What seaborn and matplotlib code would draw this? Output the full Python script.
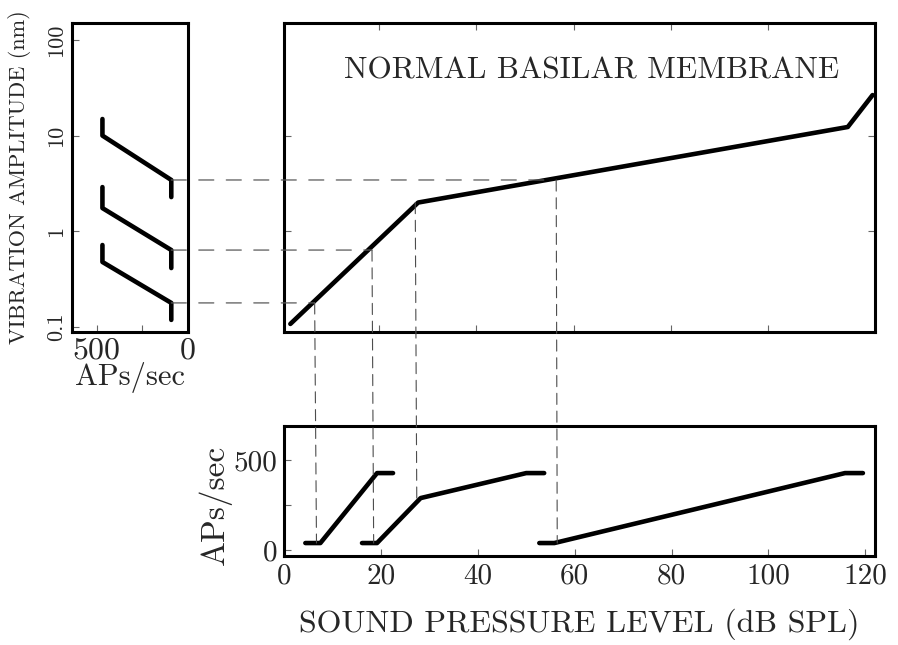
import matplotlib
matplotlib.use("Agg")
import matplotlib.pyplot as plt
from matplotlib.patches import ConnectionPatch
import pandas as pd
import seaborn as sns

# ── data ─────────────────────────────────────────────────────────────────
# basilar membrane input/output (dB SPL -> nm)
bm_spl = [1.7, 28.0, 116.4, 121.5]
bm_amp = [0.108, 2.0, 12.3, 26.5]

# fibre rate-intensity functions (dB SPL -> APs/sec)
fibre1_spl = [4.4, 7.5, 19.2, 22.5]
fibre1_rate = [39, 39, 428, 428]
fibre2_spl = [16.1, 19.2, 28.2, 50.0, 53.7]
fibre2_rate = [39, 39, 289, 428, 428]
fibre3_spl = [52.7, 55.8, 115.8, 119.5]
fibre3_rate = [39, 39, 428, 428]

# same fibres plotted against vibration amplitude (left panel)
iso_rate = [468, 468, 90, 90]
iso_amp_hi = [14.9, 10.0, 3.44, 2.28]
iso_amp_mid = [2.90, 1.75, 0.638, 0.414]
iso_amp_lo = [0.720, 0.479, 0.179, 0.119]

# dashed guides: threshold / knee points
guide_spl = [6.7, 18.5, 27.4, 56.4]
guide_amp = [0.179, 0.638, 2.0, 3.44]
guide_rate = [39, 39, 289, 39]
hguide_amp = [0.179, 0.638, 3.44]
hguide_spl = [6.7, 18.5, 56.4]

amp_ticks = [0.1, 1, 10, 100]
amp_labels = ["0.1", "1", "10", "100"]
spl_ticks = [0, 20, 40, 60, 80, 100, 120]

sns.set_theme(style="ticks")
plt.rcParams["font.family"] = ["cmr10", "DejaVu Serif"]
plt.rcParams["axes.formatter.use_mathtext"] = True

fig = plt.figure(figsize=(8.98, 6.45), dpi=100)
ax_l = fig.add_axes([0.0802, 0.4853, 0.1292, 0.4791])
ax_m = fig.add_axes([0.3163, 0.4853, 0.6581, 0.4791])
ax_b = fig.add_axes([0.3163, 0.138, 0.6581, 0.2016])

line_kw = dict(color="black", linewidth=3.3, sort=False, estimator=None)
amp_lim = (0.089, 150)

# ── main panel ───────────────────────────────────────────────────────────
sns.lineplot(data=pd.DataFrame({"spl": bm_spl, "amp": bm_amp}),
             x="spl", y="amp", ax=ax_m, **line_kw)
ax_m.set_yscale("log")
ax_m.set_ylim(*amp_lim)
ax_m.set_xlim(0.4, 122)
ax_m.set_xticks([20, 40, 60, 80, 100])
ax_m.set_yticks([1, 10])
ax_m.minorticks_off()
ax_m.tick_params(which="both", direction="in", length=5, width=0.8, color="0.4",
                 top=True, right=True, labelbottom=False, labelleft=False)
ax_m.set_xlabel("")
ax_m.set_ylabel("")
ax_m.text(0.52, 0.845, "NORMAL BASILAR MEMBRANE", transform=ax_m.transAxes,
          ha="center", va="center", fontsize=22.5)

# ── left panel ───────────────────────────────────────────────────────────
for amp in (iso_amp_hi, iso_amp_mid, iso_amp_lo):
    sns.lineplot(data=pd.DataFrame({"rate": iso_rate, "amp": amp}),
                 x="rate", y="amp", ax=ax_l, **line_kw)
ax_l.set_yscale("log")
ax_l.set_ylim(*amp_lim)
ax_l.set_xlim(635, -2)
ax_l.set_xticks([500, 250, 0])
ax_l.set_xticklabels(["500", "", "0"], fontsize=23)
ax_l.set_yticks(amp_ticks)
ax_l.set_yticklabels(amp_labels, rotation=90, va="center", fontsize=16)
ax_l.minorticks_off()
ax_l.tick_params(direction="in", length=5, width=0.8, color="0.4", pad=4)
ax_l.set_xlabel("APs/sec", fontsize=22, labelpad=-2)
ax_l.set_ylabel("VIBRATION AMPLITUDE (nm)", fontsize=16)
ax_l.yaxis.set_label_coords(-0.35, 0.5)

# ── bottom panel ─────────────────────────────────────────────────────────
for spl, rate in ((fibre1_spl, fibre1_rate), (fibre2_spl, fibre2_rate),
                  (fibre3_spl, fibre3_rate)):
    sns.lineplot(data=pd.DataFrame({"spl": spl, "rate": rate}),
                 x="spl", y="rate", ax=ax_b, **line_kw)
ax_b.set_xlim(0.4, 122)
ax_b.set_ylim(-33, 690)
ax_b.set_xticks(spl_ticks)
ax_b.set_xticklabels([str(t) for t in spl_ticks], fontsize=21)
ax_b.set_yticks([0, 250, 500])
ax_b.set_yticklabels(["0", "", "500"], fontsize=21)
ax_b.tick_params(direction="in", length=5, width=0.8, color="0.4", pad=5)
ax_b.set_xlabel("SOUND PRESSURE LEVEL (dB SPL)", fontsize=23, labelpad=14)
ax_b.set_ylabel("APs/sec", fontsize=24)
ax_b.yaxis.set_label_coords(-0.088, 0.39)

for ax in (ax_l, ax_m, ax_b):
    for sp in ax.spines.values():
        sp.set_visible(True)
        sp.set_linewidth(2.2)
        sp.set_color("black")

# ── dashed guides across panels ──────────────────────────────────────────
for spl, amp, rate in zip(guide_spl, guide_amp, guide_rate):
    con = ConnectionPatch(xyA=(spl, amp), coordsA=ax_m.transData,
                          xyB=(spl, rate), coordsB=ax_b.transData,
                          linestyle=(0, (10, 6)), color="0.3", linewidth=0.8)
    fig.add_artist(con)

for amp, spl in zip(hguide_amp, hguide_spl):
    con = ConnectionPatch(xyA=(iso_rate[-1], amp), coordsA=ax_l.transData,
                          xyB=(spl, amp), coordsB=ax_m.transData,
                          linestyle=(0, (12, 10)), color="0.35", linewidth=0.9)
    fig.add_artist(con)

fig.savefig("out.png", dpi=100)
